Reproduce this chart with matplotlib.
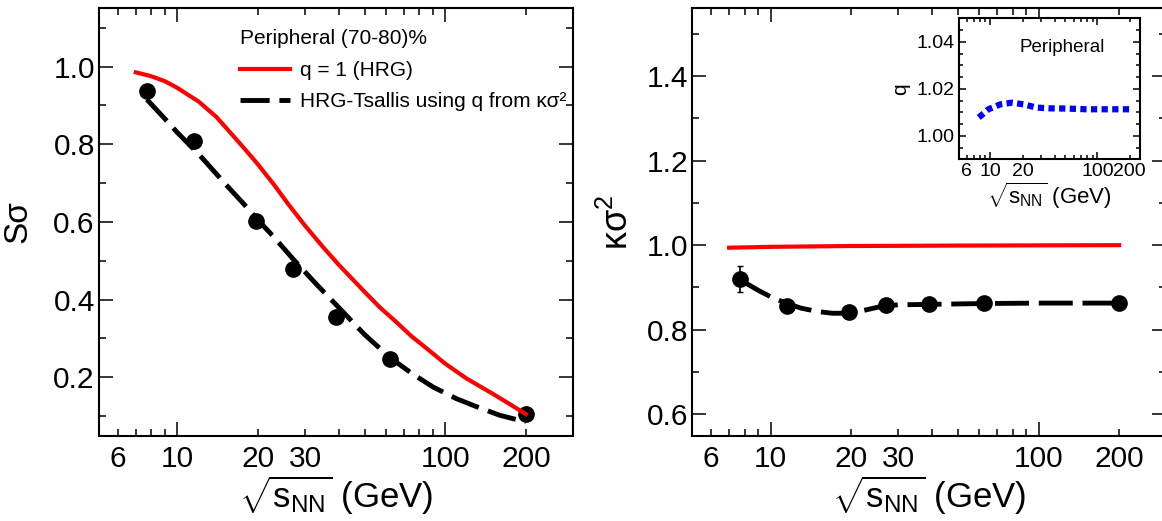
import numpy as np
import matplotlib
matplotlib.use('Agg')
import matplotlib.pyplot as plt
from matplotlib.ticker import LogLocator, FuncFormatter, MultipleLocator
from matplotlib.lines import Line2D

plt.rcParams['font.family'] = ['Liberation Sans', 'DejaVu Sans']
plt.rcParams['mathtext.fontset'] = 'custom'
plt.rcParams['mathtext.rm'] = 'Liberation Sans'
plt.rcParams['mathtext.it'] = 'Liberation Sans:italic'
plt.rcParams['mathtext.bf'] = 'Liberation Sans:bold'

# measured points (peripheral 70-80%)
energy = [7.7, 11.5, 19.6, 27, 39, 62.4, 200]
s_sigma = [0.936, 0.809, 0.602, 0.478, 0.356, 0.247, 0.105]
k_sigma2 = [0.920, 0.857, 0.841, 0.858, 0.861, 0.863, 0.863]
k_sigma2_err = [0.03, 0, 0, 0, 0, 0, 0]

# HRG (q = 1) curves
hrg_e = [7, 8, 9, 10, 12, 14, 16, 18, 20, 23, 26, 30, 35, 40, 45, 50, 57, 65,
         75, 85, 100, 120, 150, 175, 200]
hrg_s_sigma = [0.985, 0.975, 0.962, 0.945, 0.91, 0.87, 0.825, 0.785, 0.748,
               0.695, 0.645, 0.59, 0.535, 0.49, 0.453, 0.42, 0.38, 0.345,
               0.305, 0.275, 0.235, 0.197, 0.158, 0.13, 0.105]
hrg_k_e = [7, 10, 20, 50, 200]
hrg_k_sigma2 = [0.994, 0.996, 0.998, 0.999, 1.0]

# HRG-Tsallis curves
ts_e = [7.7, 9, 10, 12, 15, 17.5, 20, 23, 27, 33, 40, 50, 62.4, 75, 90, 110,
        130, 160, 200]
ts_s_sigma = [0.915, 0.865, 0.83, 0.775, 0.70, 0.65, 0.605, 0.56, 0.505, 0.44,
              0.38, 0.31, 0.25, 0.21, 0.175, 0.145, 0.125, 0.102, 0.085]
ts_k_e = [7.7, 9, 10, 11.5, 13, 15, 17, 19.6, 22, 25, 27, 30, 39, 62.4, 100, 200]
ts_k_sigma2 = [0.918, 0.893, 0.878, 0.862, 0.851, 0.843, 0.839, 0.839, 0.845,
               0.853, 0.857, 0.859, 0.860, 0.862, 0.863, 0.863]

# inset: q extracted from kappa sigma^2
q_e = [7.8, 9.6, 12.4, 15.9, 20.4, 27.1, 36, 52, 79, 121, 200]
q_val = [1.0078, 1.0113, 1.0134, 1.0141, 1.0134, 1.012, 1.0117, 1.0116, 1.0113, 1.0113, 1.0113]

main_xlabels = [6, 10, 20, 30, 100, 200]
inset_xlabels = [6, 10, 20, 100, 200]
xlabel = r'$\sqrt{\mathrm{s}_{\mathrm{NN}}}$ (GeV)'


def log_labels(keep):
    def fmt(v, pos):
        for k in keep:
            if abs(v - k) < 1e-6 * k:
                return '%g' % k
        return ''
    return FuncFormatter(fmt)


def style_axis(ax, keep, yfmt, ymajor, yminor, size, big, small, pad):
    ax.set_xscale('log')
    ax.xaxis.set_major_locator(LogLocator(base=10, numticks=10))
    ax.xaxis.set_minor_locator(LogLocator(base=10, subs=np.arange(2, 10), numticks=20))
    ax.xaxis.set_major_formatter(log_labels(keep))
    ax.xaxis.set_minor_formatter(log_labels(keep))
    ax.yaxis.set_major_locator(MultipleLocator(ymajor))
    ax.yaxis.set_minor_locator(MultipleLocator(yminor))
    ax.yaxis.set_major_formatter(FuncFormatter(lambda v, p: yfmt % v))
    ax.tick_params(which='both', direction='in', top=True, right=True,
                   labelsize=size, width=1.1)
    ax.tick_params(which='major', length=big)
    ax.tick_params(which='minor', length=small)
    ax.tick_params(axis='x', which='both', pad=pad)
    ax.tick_params(axis='y', which='both', pad=3)
    for sp in ax.spines.values():
        sp.set_linewidth(1.5)


fig = plt.figure(figsize=(11.62, 5.21), dpi=100)

# left panel: S sigma
ax1 = fig.add_axes([0.0852, 0.1641, 0.4079, 0.820])
ax1.plot(ts_e, ts_s_sigma, color='black', lw=3.5, dashes=(6, 2), zorder=2)
ax1.plot(energy, s_sigma, 'o', color='black', ms=11, zorder=3)
ax1.plot(hrg_e, hrg_s_sigma, color='red', lw=3, zorder=4)
ax1.set_xlim(5.1, 300)
ax1.set_ylim(0.05, 1.15)
style_axis(ax1, main_xlabels, '%.1f', 0.2, 0.1, 21.5, 10, 5, 7)
ax1.set_xlabel(xlabel, fontsize=25, labelpad=0)
ax1.set_ylabel('Sσ', fontsize=24)
ax1.yaxis.set_label_coords(-0.138, 0.5)

handles = [Line2D([], [], color='red', lw=3),
           Line2D([], [], color='black', lw=3.5, dashes=(6, 2))]
leg = ax1.legend(handles, ['q = 1 (HRG)', 'HRG-Tsallis using q from κσ²'],
                 title='Peripheral (70-80)%', loc='upper left',
                 bbox_to_anchor=(0.275, 0.975), frameon=False, fontsize=15,
                 title_fontsize=15, handlelength=2.4, handletextpad=0.5,
                 labelspacing=0.6, borderpad=0, alignment='left')
leg._legend_box.sep = 9

# right panel: kappa sigma^2
ax2 = fig.add_axes([0.5958, 0.1641, 0.4079, 0.820])
ax2.plot(hrg_k_e, hrg_k_sigma2, color='red', lw=3, zorder=2)
ax2.plot(ts_k_e, ts_k_sigma2, color='black', lw=3.5, dashes=(7, 2), zorder=2)
ax2.errorbar(energy, k_sigma2, yerr=k_sigma2_err, fmt='o', color='black',
             ms=11, elinewidth=1.2, capsize=2, zorder=3)
ax2.set_xlim(5.1, 300)
ax2.set_ylim(0.55, 1.56)
style_axis(ax2, main_xlabels, '%.1f', 0.2, 0.1, 21.5, 10, 5, 7)
ax2.set_xlabel(xlabel, fontsize=25, labelpad=0)
ax2.set_ylabel('κσ$^2$', fontsize=26)
ax2.yaxis.set_label_coords(-0.118, 0.5)

# inset: q
ax3 = fig.add_axes([0.8253, 0.6942, 0.1558, 0.2706])
ax3.plot(q_e, q_val, color='#0000ff', lw=4.5, dashes=(1.0, 0.7))
ax3.set_xlim(5.1, 250)
ax3.set_ylim(0.99, 1.05)
style_axis(ax3, inset_xlabels, '%.2f', 0.02, 0.005, 14, 5, 3, 3)
ax3.set_xlabel(xlabel, fontsize=16, labelpad=0)
ax3.set_ylabel('q', fontsize=15)
ax3.yaxis.set_label_coords(-0.27, 0.5)
ax3.text(0.57, 0.79, 'Peripheral', transform=ax3.transAxes, ha='center',
         va='center', fontsize=13.5)

fig.savefig('out.png', dpi=100)
